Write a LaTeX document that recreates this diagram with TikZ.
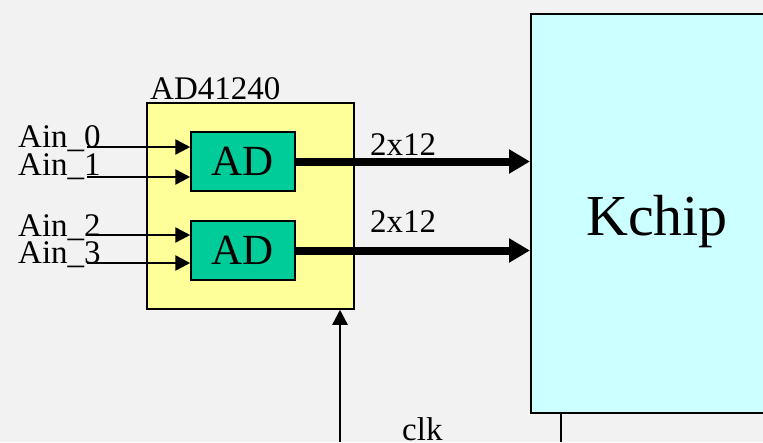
\documentclass[tikz,border=0pt]{standalone}
\usepackage{fontspec}
\setmainfont{Liberation Serif}
\usetikzlibrary{arrows.meta}
\definecolor{bgc}{RGB}{242,242,242}
\definecolor{chipyellow}{RGB}{255,255,153}
\definecolor{adgreen}{RGB}{0,204,153}
\definecolor{kcyan}{RGB}{204,255,255}
\tikzset{
  ybox/.style={draw=black, fill=chipyellow, line width=1.5pt, inner sep=0pt},
  adbox/.style={draw=black, fill=adgreen, line width=1.5pt, inner sep=0pt,
    minimum width=104pt, minimum height=59pt, font=\fontsize{43}{43}\selectfont},
  kbox/.style={draw=black, fill=kcyan, line width=2pt, inner sep=0pt},
  lbl/.style={anchor=base west, inner sep=0pt, font=\fontsize{33}{33}\selectfont},
  sig/.style={line width=2.5pt, -{Triangle[length=15pt,width=15pt]}},
  bus/.style={line width=8pt, -{Triangle[length=21pt,width=23pt]}},
}
\begin{document}
\begin{tikzpicture}[x=1pt,y=-1pt]
\useasboundingbox (0,0) rectangle (763,442);
\clip (0,0) rectangle (763,442);
\fill[bgc] (0,0) rectangle (763,442);
% Kchip
\node[kbox, minimum width=269pt, minimum height=399pt] (kchip) at (665.5,213.5) {};
\node[anchor=base, inner sep=0pt, font=\fontsize{58}{58}\selectfont] (klabel) at (657,235) {Kchip};
% AD41240
\node[ybox, minimum width=207pt, minimum height=206pt] (chip) at (250.5,206) {};
\node[lbl] (chiplabel) at (150,99) {AD41240};
\node[adbox] (ad1) at (243,161.5) {AD};
\node[adbox] (ad2) at (243,250.5) {AD};
% inputs
\node[lbl] (l0) at (18,147) {Ain\_0};
\node[lbl] (l1) at (18,175) {Ain\_1};
\node[lbl] (l2) at (18,236) {Ain\_2};
\node[lbl] (l3) at (18,263) {Ain\_3};
\coordinate (in0) at (87,147);
\coordinate (in1) at (87,177);
\coordinate (in2) at (87,235);
\coordinate (in3) at (87,263);
\draw[sig] (in0) -- (in0 -| ad1.west);
\draw[sig] (in1) -- (in1 -| ad1.west);
\draw[sig] (in2) -- (in2 -| ad2.west);
\draw[sig] (in3) -- (in3 -| ad2.west);
% buses
\draw[bus] (ad1.east) -- (ad1.east -| kchip.west);
\draw[bus] (ad2.east) -- (ad2.east -| kchip.west);
\node[lbl] (b1) at (370,155) {2x12};
\node[lbl] (b2) at (370,232) {2x12};
% clk
\coordinate (clkin) at (340,442);
\draw[sig] (clkin) -- (clkin |- chip.south);
\node[lbl] (clk) at (402,440) {clk};
% line below Kchip
\coordinate (kout) at (561,442);
\draw[line width=1.5pt] (kchip.south -| kout) -- (kout);
\end{tikzpicture}
\end{document}
